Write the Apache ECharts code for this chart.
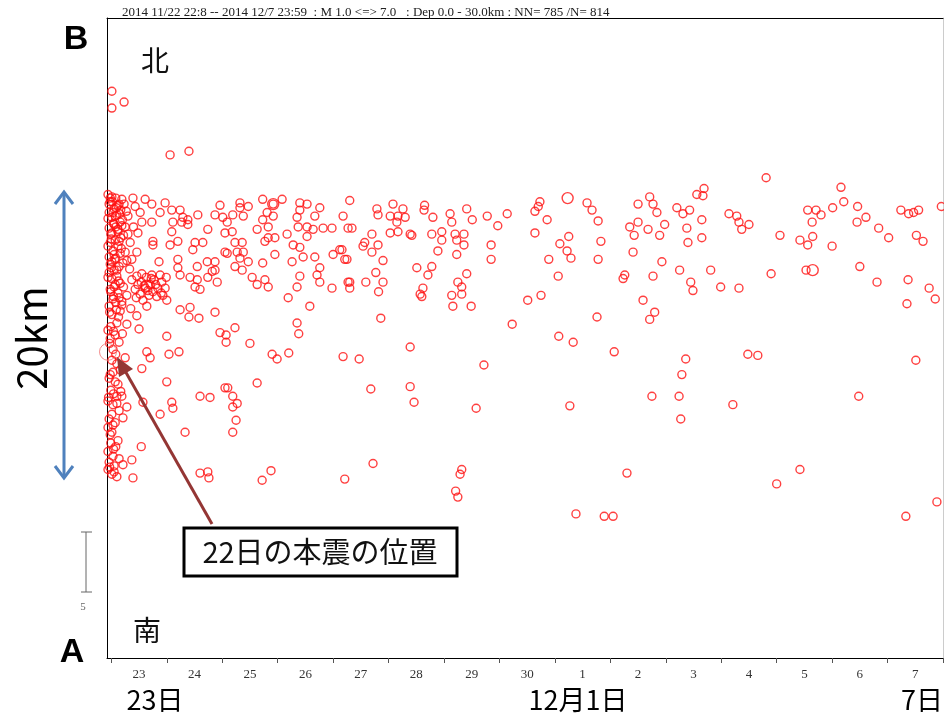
<!DOCTYPE html>
<html>
<head>
<meta charset="utf-8">
<script src="https://cdn.jsdelivr.net/npm/echarts@6/dist/echarts.min.js"></script>
<style>
  html, body { margin: 0; padding: 0; background: #fff; }
  #chart { width: 944px; height: 720px; }
</style>
</head>
<body>
<div id="chart"></div>
<script>
// x: days since 2014-11-23 00:00, y: km along the A (south) -> B (north) line
const startDay = -0.078;   // 11/22 22:08
const endDay = 15;         // 12/8 00:00
const profileLength = 53.3;
const dayTicks = [0, 1, 2, 3, 4, 5, 6, 7, 8, 9, 10, 11, 12, 13, 14, 15];
const dayLabels = ['23', '24', '25', '26', '27', '28', '29', '30', '1', '2', '3', '4', '5', '6', '7'];
const dayLabelPos = dayLabels.map((d, i) => i + 0.5);

// aftershocks right after the mainshock (first hours)
const earlyColumn = [
    [-0.06,38.6],[0.01,38.4],[0.08,38.3],[-0.02,38.0],[0.14,37.8],[-0.08,37.6],[0.05,37.4],[0.17,37.3],
    [-0.04,37.1],[0.10,36.9],[0.01,36.7],[-0.08,36.4],[0.16,36.3],[0.05,36.1],[-0.04,35.8],[0.12,35.7],
    [0.01,35.4],[-0.08,35.2],[0.17,35.0],[0.07,34.8],[-0.02,34.6],[0.12,34.3],[-0.08,34.1],[0.03,33.9],
    [0.16,33.7],[-0.04,33.4],[0.08,33.3],[0.01,33.0],[-0.08,32.8],[0.14,32.6],[0.05,32.3],[-0.04,32.1],
    [0.10,31.8],[0.01,31.6],[-0.08,31.3],[0.16,31.2],[0.05,30.9],[-0.02,30.7],[0.12,30.4],[-0.08,30.2],
    [0.03,29.9],[0.08,29.6],[-0.04,29.3],[0.16,28.9],[0.01,28.6],[-0.08,28.3],[0.10,27.9],[-0.01,27.6],
    [-0.06,27.3],[0.07,26.9],[-0.02,26.6],[0.14,26.3],[-0.08,25.9],[0.03,25.7],[0.01,24.8],[0.10,24.5],
    [-0.08,24.1],[0.03,23.8],[-0.04,23.3],[0.07,23.0],[-0.08,22.6],[-0.01,22.3],[0.10,21.8],[-0.06,21.4],
    [0.03,21.1],[-0.08,20.7],[0.01,20.3],[-0.04,19.9],[0.07,19.6],[-0.06,19.2],[0.01,18.8],[-0.08,18.3],
    [-0.01,17.9],[0.08,17.6],[-0.06,17.2],[0.03,16.8],[-0.04,16.3],[0.05,16.0],[-0.06,15.7],[0.01,15.3],
    [0.10,15.1],[-0.02,38.3],[0.12,37.7],[0.03,37.1],[-0.06,36.6],[0.08,35.9],[-0.01,35.3],[0.14,34.7],
    [-0.06,34.3],[0.05,33.6],[-0.02,32.8],[0.10,32.3],[-0.06,31.7],[0.07,31.1],[-0.01,30.5],[0.14,30.0],
    [0.19,38.2],[0.23,37.8],[-0.04,37.8],[0.07,36.8],[0.19,36.0],[0.19,29.4],[0.17,22.2],[0.19,21.8],
    [0.10,21.2],[0.28,20.9],[0.21,20.0],[0.21,16.1],[0.39,15.0],[0.37,16.5],[0.54,17.6],
    [0.02,38.0],[0.09,37.5],[0.15,37.0],[0.20,36.5],[0.04,36.2],[0.12,35.5],[0.22,35.2],[0.00,34.9],
    [0.18,34.1],[0.06,33.2],[0.21,32.9],[0.00,32.5],[0.13,31.4],[0.22,30.9],[0.04,30.1],[0.19,29.7],
    [0.09,29.0],[-0.03,28.8],[0.13,28.4],[0.04,27.2],[0.20,27.0],[-0.03,26.2],[0.08,25.3],[0.16,24.0],
    [-0.02,23.6],[0.12,22.8],[0.04,22.0],[-0.05,21.7],[0.14,20.6],[0.03,19.4],[-0.02,18.6],[0.12,18.1],
    [0.04,17.4],[0.14,16.6],[-0.03,15.9],[0.05,15.5],[0.27,37.2],[0.30,35.3],[0.34,34.6],[0.28,33.1],
    [0.33,32.4],[0.28,30.2],[0.35,29.1],[0.40,35.9],[0.43,37.6],[0.39,38.3],
    [0.01,47.2],[0.01,45.8],[0.23,46.3]
];

// days 0-2
const firstDays = [
    [0.61,38.2],[0.73,37.8],[0.97,37.9],[1.24,37.3],[1.56,36.9],[1.38,36.5],[1.09,37.3],[0.88,37.1],
    [0.52,37.1],[0.55,36.3],[0.73,36.3],[0.30,36.8],[0.25,35.9],[0.48,35.4],[0.75,34.7],[0.75,34.4],
    [0.25,33.8],[0.37,33.2],[0.46,33.8],[0.86,33.0],[1.20,34.7],[1.20,33.2],[1.06,34.4],[1.29,36.7],
    [1.27,36.3],[1.38,36.1],[1.09,35.5],[1.11,36.3],[1.51,34.6],[1.47,34.0],[1.65,34.6],[1.74,35.7],
    [1.87,36.9],[1.96,37.7],[1.73,33.0],[1.55,32.6],[1.20,32.5],[1.24,31.9],[1.42,31.7],[1.51,30.9],
    [1.60,30.7],[1.55,31.5],[0.64,29.3],[1.24,29.0],[1.42,29.2],[1.87,28.8],
    [0.37,31.5],[0.46,31.8],[0.54,31.3],[0.63,31.7],[0.70,31.1],[0.77,31.5],[0.84,30.8],[0.91,31.3],
    [0.43,30.7],[0.52,30.3],[0.61,30.8],[0.68,30.2],[0.75,30.5],[0.82,30.1],[0.90,30.4],[0.97,30.8],
    [0.57,29.8],[0.48,31.1],[0.73,31.9],[0.99,31.7],[0.59,31.0],[0.66,30.6],[0.72,31.6],[0.80,31.1],
    [0.88,31.9],[0.93,30.2],[0.45,30.0],[0.55,32.0],
    [1.00,29.8],[1.40,28.4],[1.58,28.3],[0.46,28.5],[0.28,27.8],[0.50,27.4],[1.00,26.8],[0.64,25.5],
    [0.70,25.0],[1.04,25.3],[1.22,25.5],[0.25,25.0],[0.55,24.1],[1.00,23.0],[0.57,21.3],[1.09,21.3],
    [1.11,20.8],[0.88,20.3],[1.60,21.8],[1.78,21.7],[1.33,18.8],[1.60,15.4],[1.74,15.5],[1.76,15.0],
    [1.06,41.9],[1.40,42.2]
];

// days 2-5
const middleDays = [
    [2.01,36.7],[2.19,36.9],[2.32,37.9],[2.38,36.8],[2.47,37.6],[2.32,37.5],[2.09,36.3],[2.18,35.5],
    [2.05,35.4],[2.23,34.6],[2.36,34.6],[2.38,33.8],[2.27,33.8],[2.09,33.7],[1.87,33.0],[1.82,32.2],
    [1.74,31.7],[1.91,31.3],[1.87,32.3],[2.23,32.6],[2.36,32.3],[2.32,33.3],[2.47,33.0],[2.05,33.8],
    [2.73,38.2],[2.92,37.8],[3.08,38.2],[2.81,37.1],[2.92,36.8],[2.73,36.5],[2.83,35.9],[2.63,35.7],
    [2.83,35.0],[2.77,34.7],[2.95,35.0],[3.17,35.3],[3.28,34.4],[3.40,34.2],[3.46,33.4],[3.26,33.0],
    [3.35,36.7],[3.40,37.9],[3.53,37.8],[3.40,37.3],[3.76,37.5],[3.67,36.8],[3.53,35.9],[3.37,35.9],
    [3.64,35.7],[3.53,35.1],[3.82,35.8],[3.98,35.8],[4.18,36.8],[4.27,35.8],[4.12,34.0],[4.25,33.2],
    [4.00,33.6],[3.67,33.4],[3.76,32.5],[3.71,31.9],[2.95,33.6],[2.73,32.9],[2.54,31.7],[2.63,31.1],
    [2.77,31.5],[2.83,30.9],[3.40,31.8],[3.35,30.9],[3.76,31.3],[3.98,30.8],[4.27,31.3],[3.19,30.0],
    [3.58,29.3],
    [1.96,27.1],[2.07,26.9],[2.07,26.3],[2.23,27.5],[2.50,26.2],[2.90,25.3],[2.99,24.9],[3.20,25.4],
    [3.35,27.9],[3.38,27.0],[4.18,25.1],[2.63,22.9],[2.05,22.5],[2.10,22.5],[2.19,21.8],[2.27,21.2],
    [2.19,20.9],[2.25,19.8],[2.19,18.8],[2.72,14.8],[2.88,15.6],[4.21,14.9],
    [4.30,38.1],[4.34,35.8],[4.79,37.4],[4.81,36.9],[4.70,35.3],[4.57,34.6],[4.54,34.3],[4.81,34.4],
    [4.70,33.8],[4.16,34.0],[4.21,33.2],[4.90,33.1],[4.77,32.1],[4.30,31.3],[4.30,30.8],[4.59,31.3],
    [4.90,31.3],[4.82,30.5],[4.86,28.3],[4.47,24.9],[4.68,22.4],[4.72,16.2]
];

// days 5-9
const laterDays = [
    [5.08,37.8],[5.03,36.8],[5.17,36.8],[5.26,37.4],[5.30,36.7],[5.65,37.7],[5.64,37.3],[5.80,36.7],
    [6.11,37.0],[6.14,36.3],[6.41,37.4],[6.51,36.5],[6.78,36.8],[7.14,37.0],[6.97,36.0],[5.15,36.3],
    [5.03,35.4],[5.17,35.5],[5.39,35.3],[5.42,35.2],[5.78,35.3],[5.96,35.5],[5.96,34.8],[6.20,35.3],
    [6.23,34.8],[6.36,35.3],[6.36,34.4],[5.89,33.9],[6.23,33.6],[6.85,34.4],[6.85,33.2],[5.51,32.5],
    [5.78,32.6],[5.71,31.9],[5.62,30.8],[5.57,30.3],[5.60,30.1],[6.41,32.0],[6.25,31.3],[6.32,30.9],
    [6.14,30.2],[6.32,30.3],[6.16,29.3],[6.49,29.3],[7.23,27.8],
    [5.39,25.9],[5.39,22.6],[5.46,21.3],[6.72,24.4],[6.58,20.8],[6.32,15.7],[6.29,15.3],[6.21,13.9],
    [6.25,13.4],
    [7.64,35.4],[7.73,38.0],[7.70,37.6],[7.64,37.2],[7.86,36.5],[8.58,37.9],[8.67,37.3],[8.78,36.4],
    [8.09,34.5],[8.25,35.1],[8.22,33.9],[8.29,33.3],[7.89,33.2],[8.83,34.7],[8.78,33.2],[8.06,31.8],
    [7.51,29.8],[7.75,30.2],[8.76,28.4],[8.07,26.8],[8.33,26.3],[8.27,21.0],[8.38,12.0],[8.89,11.8],
    [9.05,11.8]
];

// days 9-15
const lastDays = [
    [9.23,31.6],[9.26,31.9],[9.35,35.9],[9.50,36.3],[9.43,35.2],[9.41,33.8],[9.50,37.8],[9.07,25.5],
    [9.30,15.4],[9.71,38.4],[9.77,37.8],[9.84,37.1],[9.68,35.7],[9.89,35.2],[9.98,36.1],[10.20,37.5],
    [10.31,37.0],[10.38,35.8],[10.43,37.3],[10.56,38.6],[10.25,32.3],[10.40,34.6],[10.45,31.3],[10.49,30.6],
    [9.71,28.2],[9.80,28.8],[9.59,29.8],[9.77,31.8],[9.93,33.0],
    [10.36,24.9],[10.29,23.6],[9.75,21.8],[10.24,21.8],[10.27,19.9],[11.21,21.1],[11.48,25.3],[11.66,25.2],
    [13.48,21.8],[14.51,24.8],[12.42,15.7],[12.00,14.5],[14.89,13.0],[14.33,11.8],
    [11.81,40.0],[10.69,39.1],[10.67,38.5],[11.14,37.0],[11.28,36.8],[11.32,36.3],[11.50,36.1],[11.37,35.7],
    [10.65,36.5],[10.65,35.0],[12.06,35.2],[12.56,37.3],[12.71,37.3],[12.80,36.9],[13.01,37.5],[13.16,39.2],
    [13.21,38.0],[13.46,37.6],[13.45,36.3],[13.61,36.7],[12.64,36.3],[12.65,35.1],[12.42,34.8],[12.56,34.4],
    [13.00,34.3],[13.84,35.8],[14.02,35.0],[14.24,37.3],[14.38,37.0],[14.47,37.1],[14.56,37.3],[14.97,37.6],
    [14.52,35.2],[14.64,34.7],[10.81,32.3],[11.90,32.0],[12.53,32.3],[13.50,32.6],[10.99,30.9],[11.32,30.8],
    [13.81,31.3],[14.37,31.5],[14.75,30.8],[14.86,29.9],[14.35,29.5]
];

// a few events drawn with bigger circles
const largerQuakes = [[8.23, 38.3], [12.65, 32.3], [0.64, 31.0], [2.92, 37.8]];
// 11/22 22:08 mainshock
const mainshock = [[-0.06, 25.5]];

const quakes = earlyColumn.concat(firstDays, middleDays, laterDays, lastDays);

const red = '#ff1010';
const chart = echarts.init(document.getElementById('chart'));

const option = {
    animation: false,
    backgroundColor: '#fff',
    grid: { left: 107, right: 1, top: 18, bottom: 62 },
    xAxis: [
        {
            type: 'value',
            min: startDay,
            max: endDay,
            axisLine: { onZero: false, lineStyle: { color: '#000', width: 1 } },
            axisTick: {
                show: true,
                customValues: dayTicks,
                length: 5,
                lineStyle: { color: '#555' }
            },
            axisLabel: {
                customValues: dayLabelPos,
                formatter: function (v) {
                    return dayLabels[Math.floor(v)];
                },
                fontFamily: 'Liberation Serif',
                fontSize: 13,
                color: '#333',
                margin: 10
            },
            splitLine: { show: false }
        },
        {
            type: 'value',
            position: 'top',
            min: startDay,
            max: endDay,
            axisLine: { onZero: false, lineStyle: { color: '#000', width: 1 } },
            axisTick: { show: false },
            axisLabel: { show: false },
            splitLine: { show: false }
        }
    ],
    yAxis: [
        {
            type: 'value',
            min: 0,
            max: profileLength,
            axisLine: { show: true, onZero: false, lineStyle: { color: '#000', width: 1 } },
            axisTick: { show: false },
            axisLabel: { show: false },
            splitLine: { show: false }
        },
        {
            type: 'value',
            position: 'right',
            min: 0,
            max: profileLength,
            axisLine: { show: true, onZero: false, lineStyle: { color: '#ccc', width: 1 } },
            axisTick: { show: false },
            axisLabel: { show: false },
            splitLine: { show: false }
        }
    ],
    series: [
        {
            type: 'scatter',
            data: quakes,
            symbol: 'circle',
            symbolSize: 8,
            itemStyle: { color: 'rgba(0,0,0,0)', borderColor: red, borderWidth: 1.4 }
        },
        {
            type: 'scatter',
            data: largerQuakes,
            symbol: 'circle',
            symbolSize: 11,
            itemStyle: { color: 'rgba(0,0,0,0)', borderColor: red, borderWidth: 1.4 }
        },
        {
            type: 'scatter',
            data: mainshock,
            symbol: 'circle',
            symbolSize: 17,
            itemStyle: { color: 'rgba(0,0,0,0)', borderColor: '#f07070', borderWidth: 1 }
        }
    ],
    graphic: [
        {
            type: 'text', x: 122, y: 13, z: 10,
            style: {
                text: '2014 11/22 22:8 -- 2014 12/7 23:59  : M 1.0 <=> 7.0   : Dep 0.0 - 30.0km : NN= 785 /N= 814',
                font: '13px "Liberation Serif"', fill: '#222', textVerticalAlign: 'middle'
            }
        },
        { type: 'text', x: 76, y: 40, z: 10, style: { text: 'B', font: 'bold 34px "Liberation Sans"', fill: '#000', textAlign: 'center', textVerticalAlign: 'middle' } },
        { type: 'text', x: 72, y: 653, z: 10, style: { text: 'A', font: 'bold 34px "Liberation Sans"', fill: '#000', textAlign: 'center', textVerticalAlign: 'middle' } },
        { type: 'text', x: 155, y: 60, z: 10, style: { text: '北', font: '28px "Noto Sans CJK JP"', fill: '#111', textAlign: 'center', textVerticalAlign: 'middle' } },
        { type: 'text', x: 147, y: 630, z: 10, style: { text: '南', font: '28px "Noto Sans CJK JP"', fill: '#111', textAlign: 'center', textVerticalAlign: 'middle' } },
        // 20km scale arrow
        { type: 'text', x: 32, y: 338, rotation: Math.PI / 2, z: 10, style: { text: '20km', font: '40px "Noto Sans CJK JP"', fill: '#000', textAlign: 'center', textVerticalAlign: 'middle' } },
        { type: 'line', z: 10, shape: { x1: 64, y1: 193, x2: 64, y2: 477 }, style: { stroke: '#4f81bd', lineWidth: 3 } },
        { type: 'polyline', z: 10, shape: { points: [[55, 204], [64, 192], [73, 204]] }, style: { stroke: '#4f81bd', lineWidth: 3, fill: null } },
        { type: 'polyline', z: 10, shape: { points: [[55, 466], [64, 478], [73, 466]] }, style: { stroke: '#4f81bd', lineWidth: 3, fill: null } },
        // small 5 km bar
        { type: 'line', z: 10, shape: { x1: 86, y1: 532, x2: 86, y2: 592 }, style: { stroke: '#666', lineWidth: 1 } },
        { type: 'line', z: 10, shape: { x1: 81, y1: 532, x2: 92, y2: 532 }, style: { stroke: '#666', lineWidth: 1 } },
        { type: 'line', z: 10, shape: { x1: 81, y1: 592, x2: 92, y2: 592 }, style: { stroke: '#666', lineWidth: 1 } },
        { type: 'text', x: 83, y: 607, z: 10, style: { text: '5', font: '11px "Liberation Serif"', fill: '#666', textAlign: 'center', textVerticalAlign: 'middle' } },
        // mainshock callout
        { type: 'line', z: 10, shape: { x1: 212, y1: 524, x2: 124, y2: 369 }, style: { stroke: '#943634', lineWidth: 3 } },
        { type: 'polygon', z: 10, shape: { points: [[117, 357], [119, 377], [133, 369]] }, style: { fill: '#943634' } },
        { type: 'rect', z: 10, shape: { x: 184, y: 528, width: 273, height: 48 }, style: { fill: '#fff', stroke: '#000', lineWidth: 3 } },
        { type: 'text', x: 320, y: 552, z: 11, style: { text: '22日の本震の位置', font: '29px "Noto Sans CJK JP"', fill: '#111', textAlign: 'center', textVerticalAlign: 'middle' } },
        // bottom date captions
        { type: 'text', x: 155, y: 700, z: 10, style: { text: '23日', font: '27px "Noto Sans CJK JP"', fill: '#000', textAlign: 'center', textVerticalAlign: 'middle' } },
        { type: 'text', x: 578, y: 700, z: 10, style: { text: '12月1日', font: '27px "Noto Sans CJK JP"', fill: '#000', textAlign: 'center', textVerticalAlign: 'middle' } },
        { type: 'text', x: 943, y: 700, z: 10, style: { text: '7日', font: '27px "Noto Sans CJK JP"', fill: '#000', textAlign: 'right', textVerticalAlign: 'middle' } }
    ]
};

chart.setOption(option);
</script>
</body>
</html>
